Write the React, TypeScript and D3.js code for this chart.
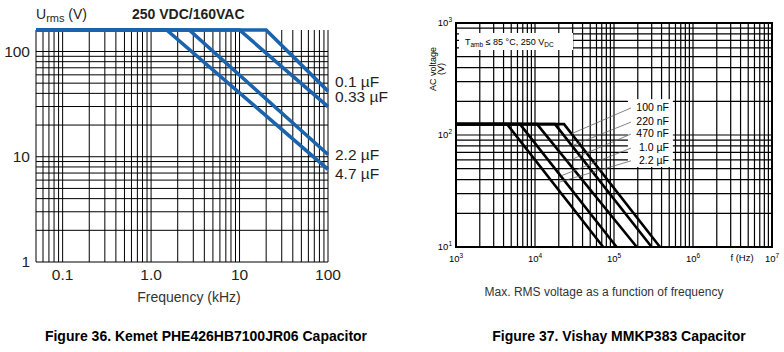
import * as d3 from "d3";

// ---- Figure 36: Kemet PHE426 (frequency in kHz, voltage in V) ----
const kemetLabels = ["0.1 µF", "0.33 µF", "2.2 µF", "4.7 µF"];
const kemetFreq = [
  [0.05, 20, 100],
  [0.05, 10, 100],
  [0.05, 2.7, 100],
  [0.05, 1.5, 100],
];
const kemetVolt = [
  [160, 160, 42],
  [160, 160, 30],
  [160, 160, 10.5],
  [160, 160, 7.6],
];
// where the series names sit along the right edge (in volts)
const kemetLabelVolt = [52, 37, 10.4, 6.85];
const kemetXTicks = [0.1, 1, 10, 100];
const kemetXTickText = ["0.1", "1.0", "10", "100"];
const kemetYTicks = [1, 10, 100];

// ---- Figure 37: Vishay MMKP383 (frequency in Hz, voltage in V) ----
const vishayLabels = ["100 nF", "220 nF", "470 nF", "1.0 µF", "2.2 µF"];
const vishayFreq = [
  [1e3, 23300, 382000],
  [1e3, 17900, 300000],
  [1e3, 10600, 194000],
  [1e3, 6450, 108000],
  [1e3, 4420, 73000],
];
const vishayVolt = [
  [125, 125, 10],
  [125, 125, 10],
  [125, 125, 10],
  [125, 125, 10],
  [125, 125, 10],
];
// leader line targets on each curve
const leaderFreq = [29400, 30600, 25300, 21800, 20400];
const leaderVolt = [103, 81, 58, 43.4, 38];
const vishayLabelVolt = [178, 133, 104, 78, 60];
const vishayExp = [3, 4, 5, 6, 7];
const vishayYExp = [1, 2, 3];

const BLUE = "#1b63ad";

function Kemet() {
  const x = d3.scaleLog().domain([0.05, 100]).range([36, 328]);
  const y = d3.scaleLog().domain([1, 160]).range([262, 30]);
  const line = d3
    .line<[number, number]>()
    .x((d) => x(d[0]))
    .y((d) => y(d[1]));
  const ink = "#231f20";

  return (
    <g fontFamily="'Liberation Sans', Arial, sans-serif" fill={ink}>
      {x.ticks().map((t, i) => (
        <line key={"kv" + i} x1={x(t)} x2={x(t)} y1={y(160)} y2={y(1)} stroke="#000" strokeWidth={1} />
      ))}
      {y.ticks().map((t, i) => (
        <line key={"kh" + i} x1={x(0.05)} x2={x(100)} y1={y(t)} y2={y(t)} stroke="#000" strokeWidth={1} />
      ))}
      {kemetFreq.map((fs, i) => (
        <path
          key={"kc" + i}
          d={line(fs.map((f, j) => [f, kemetVolt[i][j]]) as [number, number][]) || ""}
          fill="none"
          stroke={BLUE}
          strokeWidth={3.6}
          strokeLinejoin="miter"
        />
      ))}
      {kemetLabels.map((l, i) => (
        <text key={"kl" + i} x={335} y={y(kemetLabelVolt[i])} dy="0.35em" fontSize={15.5}>
          {l}
        </text>
      ))}
      {kemetYTicks.map((t, i) => (
        <text key={"ky" + i} x={30} y={y(t)} dy="0.35em" textAnchor="end" fontSize={15.5}>
          {t}
        </text>
      ))}
      {kemetXTicks.map((t, i) => (
        <text key={"kx" + i} x={x(t)} y={280} textAnchor="middle" fontSize={15.5}>
          {kemetXTickText[i]}
        </text>
      ))}
      <text x={36} y={19} fontSize={14}>
        U<tspan fontSize={11} dy={3}>rms</tspan>
        <tspan dy={-3}> (V)</tspan>
      </text>
      <text x={132} y={19} fontSize={14} fontWeight="bold">
        250 VDC/160VAC
      </text>
      <text x={189} y={302} fontSize={14} textAnchor="middle" fill="#333">
        Frequency (kHz)
      </text>
      <text x={206} y={341} fontSize={14} fontWeight="bold" textAnchor="middle" fill="#000">
        Figure 36. Kemet PHE426HB7100JR06 Capacitor
      </text>
    </g>
  );
}

function Vishay() {
  const x = d3.scaleLog().domain([1e3, 1e7]).range([456, 772]);
  const y = d3.scaleLog().domain([10, 1000]).range([247, 23]);
  const line = d3
    .line<[number, number]>()
    .x((d) => x(d[0]))
    .y((d) => y(d[1]));
  const font = "'Liberation Sans', Arial, sans-serif";

  // label block with white background
  const boxL = x(150000);
  const boxR = x(556000);
  const boxT = y(209);
  const boxB = y(51.8);
  const labelX = x(497000);
  const leadX = x(164000);

  return (
    <g fontFamily={font} fill="#000">
      {x.ticks().map((t, i) => (
        <line key={"vv" + i} x1={x(t)} x2={x(t)} y1={y(1000)} y2={y(10)} stroke="#000" strokeWidth={1.2} />
      ))}
      {y.ticks().map((t, i) => (
        <line key={"vh" + i} x1={x(1e3)} x2={x(1e7)} y1={y(t)} y2={y(t)} stroke="#000" strokeWidth={1.2} />
      ))}
      <rect x={459} y={33} width={114} height={17} fill="#fff" />
      <text x={465} y={45} fontSize={9}>
        T<tspan fontSize={6.5} dy={2}>amb</tspan>
        <tspan dy={-2}> ≤ 85 °C, 250 V</tspan>
        <tspan fontSize={6.5} dy={2}>DC</tspan>
      </text>
      <rect x={boxL} y={boxT} width={boxR - boxL} height={boxB - boxT} fill="#fff" />
      {vishayFreq.map((fs, i) => (
        <path
          key={"vc" + i}
          d={line(fs.map((f, j) => [f, vishayVolt[i][j]]) as [number, number][]) || ""}
          fill="none"
          stroke="#000"
          strokeWidth={2.6}
        />
      ))}
      {vishayLabels.map((l, i) => (
        <g key={"vl" + i}>
          <line
            x1={leadX}
            y1={y(vishayLabelVolt[i]) + 1}
            x2={x(leaderFreq[i])}
            y2={y(leaderVolt[i])}
            stroke="#666"
            strokeWidth={0.8}
          />
          <text x={labelX} y={y(vishayLabelVolt[i])} dy="0.35em" textAnchor="end" fontSize={10.5}>
            {l}
          </text>
        </g>
      ))}
      <rect x={x(1e3)} y={y(1000)} width={x(1e7) - x(1e3)} height={y(10) - y(1000)} fill="none" stroke="#000" strokeWidth={2} />
      {vishayExp.map((e) => (
        <text key={"vx" + e} x={x(Math.pow(10, e))} y={262} textAnchor="middle" fontSize={9.5}>
          10<tspan fontSize={6.5} dy={-4}>{e}</tspan>
        </text>
      ))}
      <text x={742} y={261} textAnchor="middle" fontSize={9.5}>
        f (Hz)
      </text>
      {vishayYExp.map((e) => (
        <text key={"vy" + e} x={452} y={y(Math.pow(10, e)) + 3} textAnchor="end" fontSize={9.5}>
          10<tspan fontSize={6.5} dy={-4}>{e}</tspan>
        </text>
      ))}
      <g transform="translate(436,69) rotate(-90)">
        <text textAnchor="middle" fontSize={9}>
          AC voltage
        </text>
        <text y={8} textAnchor="middle" fontSize={9}>
          (V)
        </text>
      </g>
      <text x={604} y={296} textAnchor="middle" fontSize={12} fill="#333">
        Max. RMS voltage as a function of frequency
      </text>
      <text x={619} y={341} fontSize={14} fontWeight="bold" textAnchor="middle">
        Figure 37. Vishay MMKP383 Capacitor
      </text>
    </g>
  );
}

export default function App() {
  return (
    <svg
      width={784}
      height={352}
      viewBox="0 0 784 352"
      style={{ position: "absolute", left: 0, top: 0, background: "#fff" }}
    >
      <rect width={784} height={352} fill="#fff" />
      <Kemet />
      <Vishay />
    </svg>
  );
}
